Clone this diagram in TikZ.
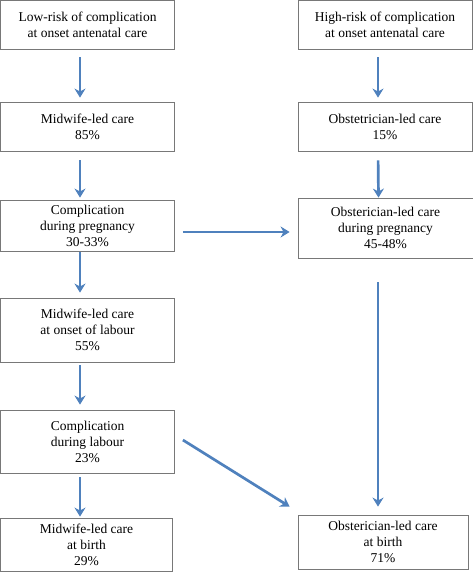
\documentclass[tikz,border=0pt]{standalone}
\usepackage{fontspec}
\setmainfont{Liberation Serif}
\usetikzlibrary{arrows.meta, positioning}
\definecolor{flowblue}{RGB}{79,129,189}
\definecolor{boxgray}{RGB}{120,120,120}

\begin{document}
\begin{tikzpicture}[x=1pt, y=-1pt,
    carebox/.style={draw=boxgray, line width=0.8pt, align=center, inner sep=0pt,
        font=\fontsize{13.5}{16}\selectfont},
    flow/.style={draw=flowblue, line width=2.7pt, -{Stealth[length=9pt, width=11pt]}}]

                \useasboundingbox (0,0) rectangle (473,572);

                % Left column: low-risk pathway
                \node[carebox, minimum width=174pt, minimum height=49pt] (low) at (87.5,24.5) {Low-risk of complication\\at onset antenatal care};
                \node[carebox, minimum width=174pt, minimum height=49pt] (mwcare) at (87.5,126.5) {Midwife-led care\\85\%};
                \node[carebox, minimum width=174pt, minimum height=51pt] (comppreg) at (87.5,225.5) {Complication\\during pregnancy\\30-33\%};
                \node[carebox, minimum width=174pt, minimum height=64pt] (mwlabour) at (87.5,330) {Midwife-led care\\at onset of labour\\55\%};
                \node[carebox, minimum width=174pt, minimum height=63pt] (complab) at (87.5,441.5) {Complication\\during labour\\23\%};
                \node[carebox, minimum width=172pt, minimum height=53pt] (mwbirth) at (86.5,544.5) {Midwife-led care\\at birth\\29\%};

                % Right column: high-risk pathway
                \node[carebox, minimum width=174pt, minimum height=49pt] (high) at (385,24.5) {High-risk of complication\\at onset antenatal care};
                \node[carebox, minimum width=174pt, minimum height=49pt] (obcare) at (385,126.5) {Obstetrician-led care\\15\%};
                \node[carebox, minimum width=175pt, minimum height=60pt] (obpreg) at (385.5,228) {Obsterician-led care\\during pregnancy\\45-48\%};
                \node[carebox, minimum width=170pt, minimum height=54pt] (obbirth) at (383,542) {Obsterician-led care\\at birth\\71\%};

                % Arrows down the left column
                \draw[flow, shorten <=8pt, shorten >=4pt] ([xshift=-7.5pt]low.south) -- ([xshift=-7.5pt]mwcare.north);
                \draw[flow, shorten <=9pt, shorten >=2pt] ([xshift=-7.5pt]mwcare.south) -- ([xshift=-7.5pt]comppreg.north);
                \draw[flow, shorten <=1pt, shorten >=5pt] ([xshift=-7.5pt]comppreg.south) -- ([xshift=-7.5pt]mwlabour.north);
                \draw[flow, shorten <=3pt, shorten >=5pt] ([xshift=-7.5pt]mwlabour.south) -- ([xshift=-7.5pt]complab.north);
                \draw[flow, shorten <=4pt, shorten >=1pt] ([xshift=-7.5pt]complab.south) -- ([xshift=-6.5pt]mwbirth.north);

                % Arrows down the right column
                \draw[flow, shorten <=8pt, shorten >=4pt] ([xshift=-7pt]high.south) -- ([xshift=-7pt]obcare.north);
                \draw[flow, shorten <=9pt, shorten >=0pt] ([xshift=-7pt]obcare.south) -- ([xshift=-7pt]obpreg.north);
                \draw[flow, shorten <=24pt, shorten >=8pt] ([xshift=-7.5pt]obpreg.south) -- ([xshift=-5pt]obbirth.north);

                % Arrows across to obstetrician-led care
                \draw[flow] ([xshift=8pt, yshift=-6.5pt]comppreg.east) -- ([xshift=-8pt, yshift=-4pt]obpreg.west);
                \draw[flow] ([xshift=8pt, yshift=1.5pt]complab.east) -- ([xshift=-8pt, yshift=8pt]obbirth.north west);

\end{tikzpicture}
\end{document}
